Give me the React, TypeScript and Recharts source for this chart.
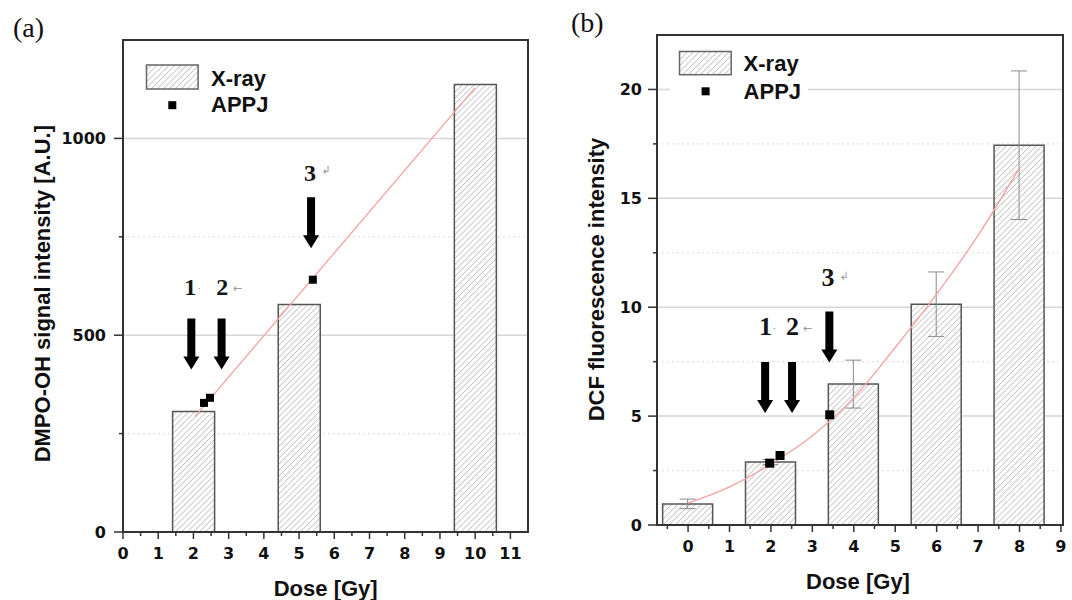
import React from 'react';
import {
  ComposedChart,
  Bar,
  Line,
  Scatter,
  XAxis,
  YAxis,
  CartesianGrid,
  ErrorBar,
  ReferenceArea,
  Legend,
} from 'recharts';

// ---------- Panel (a) data ----------
const xDomainA: [number, number] = [0, 11.5];
const yDomainA: [number, number] = [0, 1250];
const xTicksA = [0, 0.5, 1, 1.5, 2, 2.5, 3, 3.5, 4, 4.5, 5, 5.5, 6, 6.5, 7, 7.5, 8, 8.5, 9, 9.5, 10, 10.5, 11];
const xMajorA = [0, 1, 2, 3, 4, 5, 6, 7, 8, 9, 10, 11];
const yTicksA = [0, 250, 500, 750, 1000];
const yMajorA = [0, 500, 1000];
const barsA = [
  { x: 2, y: 306 },
  { x: 5, y: 578 },
  { x: 10, y: 1137 },
];
const appjA = [
  { x: 2.3, y: 328 },
  { x: 2.47, y: 341 },
  { x: 5.39, y: 641 },
];
const fitA = [
  { x: 2.04, y: 293 },
  { x: 10, y: 1129 },
];
const arrowsA = [
  { x: 1.94, y: 413 },
  { x: 2.8, y: 413 },
  { x: 5.34, y: 721 },
];
const labelsA = [
  { x: 1.91, y: 601, text: '1', mark: '·' },
  { x: 2.82, y: 601, text: '2', mark: '←' },
  { x: 5.31, y: 893, text: '3', mark: '↲' },
];

// ---------- Panel (b) data ----------
const xDomainB: [number, number] = [-0.75, 9.05];
const yDomainB: [number, number] = [0, 22.5];
const xTicksB = [-0.5, 0, 0.5, 1, 1.5, 2, 2.5, 3, 3.5, 4, 4.5, 5, 5.5, 6, 6.5, 7, 7.5, 8, 8.5, 9];
const xMajorB = [0, 1, 2, 3, 4, 5, 6, 7, 8, 9];
const yTicksB = [0, 2.5, 5, 7.5, 10, 12.5, 15, 17.5, 20];
const yMajorB = [0, 5, 10, 15, 20];
const barsB = [
  { x: 0, y: 0.97, err: 0.22 },
  { x: 2, y: 2.89, err: 0.12 },
  { x: 4, y: 6.47, err: 1.1 },
  { x: 6, y: 10.14, err: 1.48 },
  { x: 8, y: 17.44, err: 3.41 },
];
const appjB = [
  { x: 1.97, y: 2.84 },
  { x: 2.22, y: 3.19 },
  { x: 3.42, y: 5.06 },
];
const fitB = [
  { x: 0, y: 1.0 },
  { x: 1, y: 1.75 },
  { x: 2, y: 2.8 },
  { x: 3, y: 4.1 },
  { x: 4, y: 5.85 },
  { x: 5, y: 8.15 },
  { x: 6, y: 10.6 },
  { x: 7, y: 13.3 },
  { x: 8, y: 16.4 },
];
const arrowsB = [
  { x: 1.86, y: 5.14 },
  { x: 2.51, y: 5.14 },
  { x: 3.41, y: 7.46 },
];
const labelsB = [
  { x: 1.87, y: 8.72, text: '1', mark: '·' },
  { x: 2.52, y: 8.72, text: '2', mark: '←' },
  { x: 3.38, y: 10.96, text: '3', mark: '↲' },
];

// ---------- styles ----------
const SANS = '"Liberation Sans", Arial, sans-serif';
const TICKFONT = '"DejaVu Sans", sans-serif';
const SERIF = '"Liberation Serif", "Times New Roman", serif';
const AXIS = '#333';

const makeXTick = (majors: number[]) => (props: any) => {
  const { x, y, payload } = props;
  const v = payload.value;
  const major = majors.includes(v);
  return (
    <g>
      <line x1={x} y1={y} x2={x} y2={y + (major ? 7 : 4)} stroke={AXIS} strokeWidth={1.5} />
      {major && (
        <text x={x} y={y + 27} textAnchor="middle" fontFamily={TICKFONT} fontWeight="bold" fontSize={16} fill="#111">
          {v}
        </text>
      )}
    </g>
  );
};

const makeYTick = (majors: number[], gap: number) => (props: any) => {
  const { x, y, payload } = props;
  const v = payload.value;
  const major = majors.includes(v);
  return (
    <g>
      <line x1={x - (major ? 9 : 4)} y1={y} x2={x} y2={y} stroke={AXIS} strokeWidth={1.5} />
      {major && (
        <text x={x - gap} y={y + 6} textAnchor="end" fontFamily={TICKFONT} fontWeight="bold" fontSize={16} fill="#111">
          {v}
        </text>
      )}
    </g>
  );
};

const gridLine = (ticks: number[], majors: number[]) => (p: any) => {
  const v = ticks[p.index];
  if (v === undefined || v === 0) return <g key={p.key} />;
  const major = majors.includes(v);
  return (
    <line
      key={p.key}
      x1={p.x1}
      y1={p.y1}
      x2={p.x2}
      y2={p.y2}
      stroke={major ? '#d6d6d6' : '#e2e2e2'}
      strokeWidth={major ? 1.5 : 1.2}
      strokeDasharray={major ? undefined : '2 3'}
    />
  );
};

const squareShape = (s: number) => (p: any) => (
  <rect x={p.cx - s / 2} y={p.cy - s / 2} width={s} height={s} fill="#000" />
);

const ArrowShape = (p: any) => {
  const { cx, cy } = p;
  const L = 51, hh = 13, hw = 8, sw = 4;
  const pts = [
    [cx - sw, cy - L],
    [cx + sw, cy - L],
    [cx + sw, cy - hh],
    [cx + hw, cy - hh],
    [cx, cy],
    [cx - hw, cy - hh],
    [cx - sw, cy - hh],
  ];
  return <polygon points={pts.map((q) => q.join(',')).join(' ')} fill="#000" />;
};

const markOffset: Record<string, [number, number]> = {
  '·': [9, -7],
  '←': [15, -7],
  '↲': [16, -10],
};

const makeLabel = (size: number) => (p: any) => {
  const { cx, cy, payload } = p;
  const [dx, dy] = markOffset[payload.mark] || [12, -8];
  return (
    <g>
      <text x={cx} y={cy} textAnchor="middle" fontFamily={SERIF} fontWeight="bold" fontSize={size} fill="#151515">
        {payload.text}
      </text>
      <text x={cx + dx} y={cy + dy} textAnchor="middle" dominantBaseline="central" fontFamily={TICKFONT} fontSize={11} fill="#999">
        {payload.mark}
      </text>
    </g>
  );
};

const Hatch = ({ id }: { id: string }) => (
  <pattern id={id} patternUnits="userSpaceOnUse" width={4.2} height={10} patternTransform="rotate(45)">
    <rect x={0} y={0} width={4.2} height={10} fill="#fff" />
    <line x1={0} y1={0} x2={0} y2={10} stroke="#9a9a9a" strokeWidth={1} />
  </pattern>
);

type LegendCfg = {
  pid: string;
  w: number;
  h: number;
  box: { x: number; y: number; w: number; h: number };
  textX: number;
  xrayY: number;
  sq: { x: number; y: number };
  appjY: number;
};

const LegendBox = (c: LegendCfg) => (
  <svg width={c.w} height={c.h} style={{ display: 'block' }}>
    <defs>
      <Hatch id={c.pid} />
    </defs>
    <rect x={0} y={0} width={c.w} height={c.h} fill="#fff" />
    <rect x={c.box.x} y={c.box.y} width={c.box.w} height={c.box.h} fill={`url(#${c.pid})`} stroke="#666" strokeWidth={1.5} />
    <text x={c.textX} y={c.xrayY} fontFamily={SANS} fontWeight="bold" fontSize={22} fill="#111">
      X-ray
    </text>
    <rect x={c.sq.x - 4} y={c.sq.y - 4} width={8} height={8} fill="#000" />
    <text x={c.textX} y={c.appjY} fontFamily={SANS} fontWeight="bold" fontSize={22} fill="#111">
      APPJ
    </text>
  </svg>
);

const legendA: LegendCfg = {
  pid: 'legHatchA',
  w: 140,
  h: 62,
  box: { x: 6.5, y: 7, w: 51.6, h: 24 },
  textX: 71,
  xrayY: 27.7,
  sq: { x: 32.3, y: 47.2 },
  appjY: 54,
};

const legendB: LegendCfg = {
  pid: 'legHatchB',
  w: 138,
  h: 60,
  box: { x: 9.5, y: 6.5, w: 51.7, h: 23.2 },
  textX: 73.6,
  xrayY: 26.4,
  sq: { x: 35.6, y: 46.3 },
  appjY: 53.6,
};

export default function App() {
  return (
    <div style={{ position: 'absolute', left: 0, top: 0, width: 1072, height: 600, background: '#fff', overflow: 'hidden' }}>
      {/* Panel (a) */}
      <div style={{ position: 'absolute', left: 0, top: 0 }}>
        <ComposedChart width={540} height={600} data={barsA} margin={{ top: 40, right: 12, bottom: 8, left: 0 }}>
          <defs>
            <Hatch id="hatchA" />
          </defs>
          <CartesianGrid vertical={false} horizontal={gridLine(yTicksA, yMajorA)} />
          <XAxis
            dataKey="x"
            type="number"
            domain={xDomainA}
            allowDataOverflow
            ticks={xTicksA}
            interval={0}
            tickSize={0}
            tickMargin={0}
            tickLine={false}
            tick={makeXTick(xMajorA)}
            axisLine={{ stroke: AXIS, strokeWidth: 2 }}
            height={60}
          />
          <XAxis xAxisId="bars" dataKey="x" type="number" domain={xDomainA} allowDataOverflow ticks={xDomainA} hide />
          <YAxis
            type="number"
            domain={yDomainA}
            allowDataOverflow
            ticks={yTicksA}
            interval={0}
            tickSize={0}
            tickMargin={0}
            tickLine={false}
            tick={makeYTick(yMajorA, 17)}
            axisLine={{ stroke: AXIS, strokeWidth: 2 }}
            width={123}
          />
          <ReferenceArea x1={xDomainA[0]} x2={xDomainA[1]} y1={yDomainA[0]} y2={yDomainA[1]} fill="none" stroke={AXIS} strokeWidth={2} fillOpacity={0} />
          <Bar xAxisId="bars" dataKey="y" name="X-ray" barSize={42} fill="url(#hatchA)" stroke="#555" strokeWidth={1.5} isAnimationActive={false} />
          <Line data={fitA} dataKey="y" type="linear" stroke="#f4a2a2" strokeWidth={1.3} dot={false} activeDot={false} legendType="none" isAnimationActive={false} />
          <Scatter data={appjA} dataKey="y" name="APPJ" shape={squareShape(8)} isAnimationActive={false} />
          <Scatter data={arrowsA} dataKey="y" shape={ArrowShape} legendType="none" isAnimationActive={false} />
          <Scatter data={labelsA} dataKey="y" shape={makeLabel(24)} legendType="none" isAnimationActive={false} />
          <Legend
            layout="vertical"
            align="center"
            verticalAlign="middle"
            wrapperStyle={{ position: 'absolute', left: 140, top: 58, width: legendA.w, height: legendA.h }}
            content={() => <LegendBox {...legendA} />}
          />
        </ComposedChart>
      </div>

      {/* Panel (b) */}
      <div style={{ position: 'absolute', left: 540, top: 0 }}>
        <ComposedChart width={532} height={600} data={barsB} margin={{ top: 35, right: 9, bottom: 15, left: 0 }}>
          <defs>
            <Hatch id="hatchB" />
          </defs>
          <CartesianGrid vertical={false} horizontal={gridLine(yTicksB, yMajorB)} />
          <XAxis
            dataKey="x"
            type="number"
            domain={xDomainB}
            allowDataOverflow
            ticks={xTicksB}
            interval={0}
            tickSize={0}
            tickMargin={0}
            tickLine={false}
            tick={makeXTick(xMajorB)}
            axisLine={{ stroke: AXIS, strokeWidth: 2 }}
            height={60}
          />
          <XAxis xAxisId="bars" dataKey="x" type="number" domain={xDomainB} allowDataOverflow ticks={xDomainB} hide />
          <YAxis
            type="number"
            domain={yDomainB}
            allowDataOverflow
            ticks={yTicksB}
            interval={0}
            tickSize={0}
            tickMargin={0}
            tickLine={false}
            tick={makeYTick(yMajorB, 15)}
            axisLine={{ stroke: AXIS, strokeWidth: 2 }}
            width={117}
          />
          <ReferenceArea x1={xDomainB[0]} x2={xDomainB[1]} y1={yDomainB[0]} y2={yDomainB[1]} fill="none" stroke={AXIS} strokeWidth={2} fillOpacity={0} />
          <Bar xAxisId="bars" dataKey="y" name="X-ray" barSize={50} fill="url(#hatchB)" stroke="#555" strokeWidth={1.5} isAnimationActive={false}>
            <ErrorBar dataKey="err" width={8} stroke="#8a8a8a" strokeWidth={1} direction="y" />
          </Bar>
          <Line data={fitB} dataKey="y" type="monotone" stroke="#f4a2a2" strokeWidth={1.3} dot={false} activeDot={false} legendType="none" isAnimationActive={false} />
          <Scatter data={appjB} dataKey="y" name="APPJ" shape={squareShape(9)} isAnimationActive={false} />
          <Scatter data={arrowsB} dataKey="y" shape={ArrowShape} legendType="none" isAnimationActive={false} />
          <Scatter data={labelsB} dataKey="y" shape={makeLabel(26)} legendType="none" isAnimationActive={false} />
          <Legend
            layout="vertical"
            align="center"
            verticalAlign="middle"
            wrapperStyle={{ position: 'absolute', left: 130, top: 45, width: legendB.w, height: legendB.h }}
            content={() => <LegendBox {...legendB} />}
          />
        </ComposedChart>
      </div>

      {/* Titles */}
      <svg width={1072} height={600} style={{ position: 'absolute', left: 0, top: 0, pointerEvents: 'none' }}>
        <text x={13} y={37} fontFamily={SERIF} fontSize={28} fill="#111">(a)</text>
        <text x={571} y={31.5} fontFamily={SERIF} fontSize={28} fill="#111">(b)</text>
        <text x={325.7} y={596} textAnchor="middle" fontFamily={SANS} fontWeight="bold" fontSize={22} fill="#111">Dose [Gy]</text>
        <text x={858} y={589} textAnchor="middle" fontFamily={SANS} fontWeight="bold" fontSize={22} fill="#111">Dose [Gy]</text>
        <text x={50.5} y={293.7} textAnchor="middle" transform="rotate(-90 50.5 293.7)" fontFamily={SANS} fontWeight="bold" fontSize={22} fill="#111">
          DMPO-OH signal intensity [A.U.]
        </text>
        <text x={604} y={279.5} textAnchor="middle" transform="rotate(-90 604 279.5)" fontFamily={SANS} fontWeight="bold" fontSize={22} fill="#111">
          DCF fluorescence intensity
        </text>
      </svg>
    </div>
  );
}
